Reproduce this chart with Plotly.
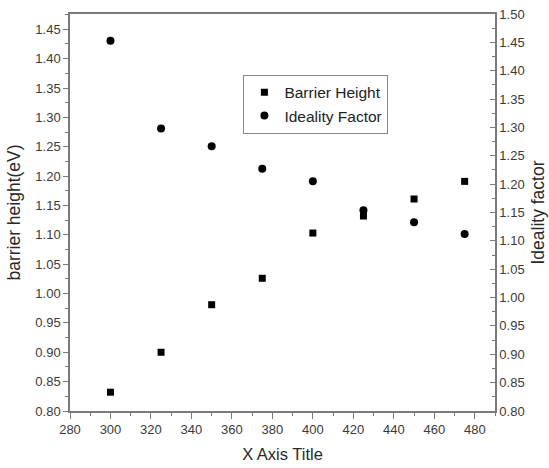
import plotly.graph_objects as go

temperature = [300, 325, 350, 375, 400, 425, 450, 475]
barrier_height = [0.832, 0.900, 0.981, 1.026, 1.103, 1.132, 1.161, 1.191]
ideality_factor = [1.453, 1.298, 1.267, 1.227, 1.205, 1.154, 1.133, 1.112]

axis_color = "#7a7a7a"
text_color = "#3a3a3a"
title_color = "#2a2a2a"
font_family = "Liberation Sans, Arial, sans-serif"

fig = go.Figure()
fig.add_trace(go.Scatter(
    x=temperature, y=barrier_height, mode="markers", name="Barrier Height",
    marker=dict(symbol="square", size=7, color="black"), yaxis="y"))
fig.add_trace(go.Scatter(
    x=temperature, y=ideality_factor, mode="markers", name="Ideality Factor",
    marker=dict(symbol="circle", size=8, color="black"), yaxis="y2"))

fig.update_layout(
    width=549, height=468,
    margin=dict(l=70, r=54, t=14, b=57),
    paper_bgcolor="white", plot_bgcolor="white",
    font=dict(family=font_family, color=text_color, size=13),
    showlegend=True,
    legend=dict(x=0.408, y=0.847, xanchor="left", yanchor="top",
                bordercolor="#888888", borderwidth=1, bgcolor="white",
                font=dict(size=15.5, color="#222222"),
                itemsizing="trace", tracegroupgap=0),
    xaxis=dict(range=[280, 490], dtick=20, tick0=280, showgrid=False, zeroline=False,
               automargin=False,
               showline=True, linecolor=axis_color, linewidth=1.5, mirror=True,
               ticks="outside", ticklen=6, tickcolor=axis_color, tickwidth=1.2,
               minor=dict(ticks="outside", ticklen=3, dtick=10, tickcolor=axis_color, showgrid=False),
               title=dict(text="X Axis Title", font=dict(size=16.5, color=title_color), standoff=12),
               tickfont=dict(size=13, color=text_color)),
    yaxis=dict(range=[0.80, 1.476], dtick=0.05, tick0=0.80, tickformat=".2f",
               showgrid=False, zeroline=False, automargin=False,
               showline=True, linecolor=axis_color, linewidth=1.5,
               ticks="outside", ticklen=5, tickcolor=axis_color, tickwidth=1.2,
               minor=dict(ticks="outside", ticklen=3, dtick=0.025, tickcolor=axis_color, showgrid=False),
               title=dict(text="barrier height(eV)", font=dict(size=17.5, color=title_color), standoff=10),
               tickfont=dict(size=13, color=text_color)),
    yaxis2=dict(range=[0.80, 1.50], dtick=0.05, tick0=0.80, tickformat=".2f",
                overlaying="y", side="right", anchor="x",
                showgrid=False, zeroline=False, automargin=False,
                showline=True, linecolor=axis_color, linewidth=1.5,
                ticks="inside", ticklen=5, tickcolor=axis_color, tickwidth=1.2,
                minor=dict(ticks="inside", ticklen=3, dtick=0.025, tickcolor=axis_color, showgrid=False),
                title=dict(text="Ideality factor", font=dict(size=17.5, color=title_color), standoff=8),
                tickfont=dict(size=13, color=text_color)),
)

fig.write_html("out.html")
